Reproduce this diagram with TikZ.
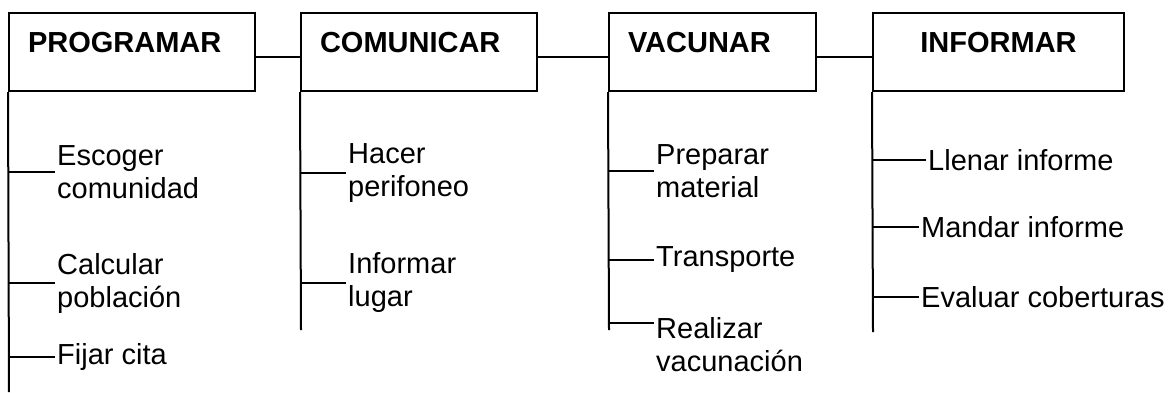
\documentclass[tikz,border=0pt]{standalone}
\usepackage{fontspec}
\setmainfont{Liberation Sans}
\usepackage{tikz}
\usetikzlibrary{positioning}
\tikzset{caja/.style = {draw, line width = 2pt, inner xsep = 19pt, inner ysep = 0pt,
                        text height = 39pt, text depth = 39pt, align = left,
                        font = \fontsize{29}{33}\selectfont\bfseries}}
\tikzset{tarea/.style = {anchor = west, align = left, inner sep = 2pt,
                         font = \fontsize{29}{33}\selectfont}}
\tikzset{rama/.style = {line width = 2pt}}

\begin{document}
\begin{tikzpicture}[x = 1pt, y = -1pt]
    \useasboundingbox (0, 0) rectangle (1174, 392);

    \node at (132, 52) [caja, text width = 208pt] (programar) {PROGRAMAR};
    \node at (419, 52) [caja, text width = 198pt] (comunicar) {COMUNICAR};
    \node at (712.5, 52) [caja, text width = 169pt] (vacunar) {VACUNAR};
    \node at (998.5, 52) [caja, text width = 213pt, align = center] (informar) {INFORMAR};

    \draw [rama] ([yshift = -5pt]programar.east) -- ([yshift = -5pt]comunicar.west);
    \draw [rama] ([yshift = -5pt]comunicar.east) -- ([yshift = -5pt]vacunar.west);
    \draw [rama] ([yshift = -5pt]vacunar.east) -- ([yshift = -5pt]informar.west);

    \coordinate (fin1) at (9, 392);
    \coordinate (fin2) at (301, 330);
    \coordinate (fin3) at (609, 330);
    \coordinate (fin4) at (873, 332);
    \draw [rama] (programar.south west) -- (fin1);
    \draw [rama] (comunicar.south west) -- (fin2);
    \draw [rama] (vacunar.south west) -- (fin3);
    \draw [rama] (informar.south west) -- (fin4);

    \node at (55, 172) [tarea] (escoger) {Escoger\\comunidad};
    \node at (55, 283) [tarea] (calcular) {Calcular\\población};
    \node at (55, 357) [tarea] (fijar) {Fijar cita};
    \draw [rama] (escoger.west -| fin1) -- (escoger.west);
    \draw [rama] (calcular.west -| fin1) -- (calcular.west);
    \draw [rama] (fijar.west -| fin1) -- (fijar.west);

    \node at (346, 173) [tarea] (hacer) {Hacer\\perifoneo};
    \node at (346, 283) [tarea] (lugar) {Informar\\lugar};
    \draw [rama] (hacer.west -| fin2) -- (hacer.west);
    \draw [rama] (lugar.west -| fin2) -- (lugar.west);

    \node at (654, 171) [tarea] (preparar) {Preparar\\material};
    \node at (654, 260) [tarea] (transporte) {Transporte};
    \node at (654, 345) [tarea] (realizar) {Realizar\\vacunación};
    \draw [rama] (preparar.west -| fin3) -- (preparar.west);
    \draw [rama] (transporte.west -| fin3) -- (transporte.west);
    \draw [rama] ([yshift = 22pt]realizar.west -| fin3) -- ([yshift = 22pt]realizar.west);

    \node at (926, 160) [tarea] (llenar) {Llenar informe};
    \node at (919, 227) [tarea] (mandar) {Mandar informe};
    \node at (919, 297) [tarea] (evaluar) {Evaluar coberturas};
    \draw [rama] (llenar.west -| fin4) -- (llenar.west);
    \draw [rama] (mandar.west -| fin4) -- (mandar.west);
    \draw [rama] (evaluar.west -| fin4) -- (evaluar.west);
\end{tikzpicture}
\end{document}
